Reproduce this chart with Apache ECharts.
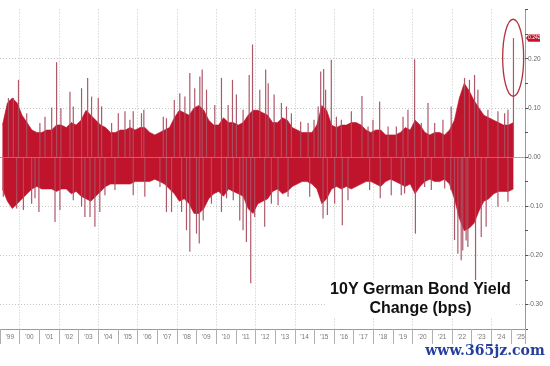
<!DOCTYPE html>
<html><head><meta charset="utf-8">
<script src="https://cdn.jsdelivr.net/npm/echarts/dist/echarts.min.js"></script>
<style>html,body{margin:0;padding:0;background:#fff;}#c{width:550px;height:366px;}</style>
</head><body><div id="c"></div>
<script>
// ---- data ----
const coreStartYear = 1999; // quarterly samples, 1999Q1 .. 2025Q1
const coreUpper = [
  0.065, 0.11, 0.12, 0.11,
  0.085, 0.07, 0.055, 0.05,
  0.05, 0.055, 0.055, 0.065,
  0.065, 0.06, 0.07, 0.065,
  0.075, 0.095, 0.085, 0.075,
  0.065, 0.06, 0.05, 0.05,
  0.055, 0.055, 0.06, 0.055,
  0.06, 0.06, 0.05, 0.045,
  0.05, 0.055, 0.06, 0.08,
  0.095, 0.09, 0.085, 0.10,
  0.105, 0.095, 0.075, 0.065,
  0.065, 0.08, 0.07, 0.07,
  0.065, 0.07, 0.085, 0.095,
  0.095, 0.09, 0.085, 0.07,
  0.07, 0.08, 0.075, 0.06,
  0.055, 0.05, 0.05, 0.05,
  0.065, 0.105, 0.095, 0.065,
  0.06, 0.065, 0.065, 0.07,
  0.07, 0.065, 0.055, 0.05,
  0.055, 0.055, 0.045, 0.045,
  0.045, 0.05, 0.06, 0.055,
  0.075, 0.065, 0.05, 0.045,
  0.05, 0.05, 0.045, 0.055,
  0.075, 0.12, 0.15, 0.135,
  0.115, 0.10, 0.085, 0.08,
  0.075, 0.07, 0.065, 0.065,
  0.07
];
const coreLower = [
  -0.065, -0.09, -0.105, -0.095,
  -0.085, -0.075, -0.065, -0.06,
  -0.065, -0.065, -0.065, -0.07,
  -0.065, -0.065, -0.075, -0.07,
  -0.08, -0.085, -0.09, -0.08,
  -0.07, -0.06, -0.055, -0.055,
  -0.055, -0.055, -0.055, -0.05,
  -0.05, -0.05, -0.05, -0.045,
  -0.05, -0.055, -0.065, -0.075,
  -0.09, -0.085, -0.095, -0.115,
  -0.115, -0.105, -0.085, -0.075,
  -0.07, -0.08, -0.065, -0.07,
  -0.075, -0.08, -0.105, -0.115,
  -0.095, -0.09, -0.085, -0.07,
  -0.065, -0.075, -0.07, -0.06,
  -0.055, -0.05, -0.05, -0.055,
  -0.065, -0.095, -0.085, -0.065,
  -0.06, -0.065, -0.06, -0.065,
  -0.06, -0.055, -0.05, -0.05,
  -0.055, -0.06, -0.05, -0.045,
  -0.05, -0.055, -0.06, -0.055,
  -0.075, -0.06, -0.05, -0.045,
  -0.05, -0.05, -0.045, -0.055,
  -0.085, -0.125, -0.15, -0.145,
  -0.135, -0.11, -0.09, -0.085,
  -0.075, -0.07, -0.07, -0.07,
  -0.065
];
const spikeDates = [
  1999.43, 1999.68, 1999.94, 2000.36, 2001.03, 2001.29, 2001.63, 2001.88, 2002.10, 2002.56,
  2002.73, 2003.15, 2003.46, 2003.66, 2004.00, 2004.17, 2004.68, 2005.02, 2005.36, 2005.61,
  2005.78, 2006.20, 2006.32, 2007.31, 2007.47, 2007.87, 2008.15, 2008.41, 2008.66, 2008.91,
  2009.17, 2009.29, 2009.51, 2009.93, 2010.27, 2010.61, 2010.83, 2011.03, 2011.37, 2011.68,
  2011.85, 2012.22, 2012.52, 2012.65, 2012.95, 2013.32, 2013.58, 2013.83, 2014.30, 2014.68,
  2014.98, 2015.19, 2015.32, 2015.47, 2015.57, 2015.86, 2016.12, 2016.37, 2016.88, 2017.42,
  2017.73, 2017.98, 2018.32, 2018.75, 2019.17, 2019.51, 2019.76, 2020.10, 2020.44, 2020.78,
  2021.12, 2021.54, 2021.96, 2022.64, 2022.89, 2023.15, 2023.32, 2023.83, 2024.34, 2024.68,
  2024.85,
  1999.17, 1999.85, 2000.19, 2000.61, 2000.78, 2000.98, 2001.80, 2002.05, 2002.73, 2003.15,
  2003.32, 2003.58, 2003.83, 2004.08, 2004.34, 2004.85, 2005.78, 2006.37, 2007.14, 2007.47,
  2007.73, 2008.24, 2008.49, 2008.66, 2009.00, 2009.14, 2009.34, 2009.76, 2010.27, 2010.53,
  2010.87, 2011.20, 2011.37, 2011.54, 2011.76, 2011.96, 2012.47, 2012.81, 2013.15, 2013.66,
  2014.76, 2015.44, 2015.66, 2016.03, 2016.42, 2016.71, 2017.81, 2018.35, 2018.91, 2019.42,
  2019.59, 2020.14, 2020.61, 2020.95, 2021.63, 2021.94, 2022.13, 2022.30, 2022.47, 2022.55,
  2022.72, 2022.81, 2023.20, 2023.49, 2023.74, 2024.34, 2024.85,
  2025.13
];
const spikeValues = [
  0.12, 0.12, 0.157, 0.089, 0.069, 0.082, 0.101, 0.193, 0.099, 0.133,
  0.103, 0.140, 0.161, 0.123, 0.12, 0.103, 0.069, 0.089, 0.093, 0.076,
  0.093, 0.089, 0.096, 0.082, 0.079, 0.116, 0.13, 0.123, 0.171, 0.14,
  0.164, 0.178, 0.137, 0.106, 0.161, 0.106, 0.157, 0.127, 0.096, 0.167,
  0.229, 0.137, 0.178, 0.150, 0.127, 0.11, 0.103, 0.089, 0.072, 0.069,
  0.076, 0.103, 0.174, 0.179, 0.137, 0.198, 0.082, 0.076, 0.093, 0.124,
  0.062, 0.076, 0.113, 0.062, 0.062, 0.082, 0.096, 0.199, 0.069, 0.11,
  0.069, 0.076, 0.103, 0.161, 0.157, 0.167, 0.137, 0.096, 0.093, 0.089,
  0.096,
  -0.081, -0.105, -0.108, -0.095, -0.084, -0.112, -0.132, -0.108, -0.088, -0.101,
  -0.122, -0.122, -0.142, -0.112, -0.078, -0.067, -0.078, -0.081, -0.061, -0.112,
  -0.112, -0.112, -0.149, -0.193, -0.156, -0.176, -0.129, -0.095, -0.112, -0.084,
  -0.088, -0.129, -0.149, -0.173, -0.257, -0.122, -0.142, -0.095, -0.098, -0.081,
  -0.081, -0.125, -0.118, -0.095, -0.139, -0.088, -0.067, -0.084, -0.078, -0.078,
  -0.074, -0.156, -0.061, -0.067, -0.064, -0.067, -0.169, -0.197, -0.21, -0.19,
  -0.17, -0.183, -0.265, -0.163, -0.142, -0.101, -0.091,
  0.242
];
const yearLabels = ["'99","'00","'01","'02","'03","'04","'05","'06","'07","'08","'09","'10","'11","'12",
  "'13","'14","'15","'16","'17","'18","'19","'20","'21","'22","'23","'24","'25"];
const yTickLabels = ["-0.30","-0.20","-0.10","0.00","0.10","0.20"];
const annotationLines = ['10Y German Bond Yield', 'Change (bps)'];
const watermark = 'www.365jz.com';

// ---- build ----
const RED = '#c0142c';
const SPIKE = 'rgba(170,80,98,0.95)';
const X_MIN = 1999, X_MAX = 2025.717;
const Y_MIN = -0.35, Y_MAX = 0.30;
const upData = coreUpper.map((v, i) => [coreStartYear + 0.125 + 0.25 * i, v]);
const downData = coreLower.map((v, i) => [coreStartYear + 0.125 + 0.25 * i, v]);
const spikeData = spikeDates.map((d, i) => [d, spikeValues[i]]);

const isInt = v => Math.abs(v - Math.round(v)) < 1e-6;
const chart = echarts.init(document.getElementById('c'), null, {renderer: 'canvas'});
const FONT = '"Liberation Sans", Arial, sans-serif';

chart.setOption({
  animation: false,
  backgroundColor: '#fff',
  grid: [
    {left: 0, top: 9.6, width: 525, height: 319.4},
    {left: 9.83, top: 9.6, width: 525, height: 319.4}
  ],
  xAxis: [
    {type: 'value', gridIndex: 0, min: X_MIN, max: X_MAX, interval: 1,
     axisLine: {show: true, onZero: false, lineStyle: {color: '#9a9a9a', width: 1}},
     axisTick: {show: true, length: 15, lineStyle: {color: '#b0b0b0'}},
     axisLabel: {show: false},
     splitLine: {show: true, lineStyle: {type: [1, 2], color: ['rgba(0,0,0,0)', '#c4c4c4']}}},
    {type: 'value', gridIndex: 1, min: X_MIN, max: X_MAX, interval: 1,
     axisLine: {show: false}, axisTick: {show: false}, splitLine: {show: false},
     axisLabel: {show: true, fontSize: 6.5, color: '#777', fontFamily: FONT, margin: 5,
       formatter: v => isInt(v) ? (yearLabels[Math.round(v) - 1999] || '') : ''}}
  ],
  yAxis: [
    {type: 'value', gridIndex: 0, position: 'right', min: Y_MIN, max: Y_MAX, interval: 0.05,
     axisLine: {show: true, lineStyle: {color: '#9a9a9a', width: 1}},
     axisTick: {show: true, length: 3, lineStyle: {color: '#555'}},
     axisLabel: {show: true, fontSize: 6.5, color: '#666', fontFamily: FONT, margin: 3,
       formatter: v => {
         const k = Math.round(v * 100);
         if (k % 10 !== 0) return '';
         const idx = Math.round(k / 10) + 3;
         return yTickLabels[idx] || '';
       }},
     splitLine: {show: true, showMaxLine: false, lineStyle: {type: [1, 2], color: ['rgba(0,0,0,0)', '#c4c4c4']}}},
    {type: 'value', gridIndex: 1, min: Y_MIN, max: Y_MAX, show: false}
  ],
  series: [
    {type: 'line', xAxisIndex: 0, yAxisIndex: 0, data: upData, symbol: 'none', z: 3,
     lineStyle: {width: 0.6, color: RED}, areaStyle: {color: RED, opacity: 1},
     markLine: {silent: true, symbol: ['none', 'none'], label: {show: false}, z: 6,
       lineStyle: {color: 'rgba(225,110,125,0.75)', width: 1, type: 'solid'},
       data: [{yAxis: 0}]}},
    {type: 'line', xAxisIndex: 0, yAxisIndex: 0, data: downData, symbol: 'none', z: 3,
     lineStyle: {width: 0.6, color: RED}, areaStyle: {color: RED, opacity: 1}},
    {type: 'bar', xAxisIndex: 0, yAxisIndex: 0, data: spikeData, barWidth: 1.2, z: 4,
     itemStyle: {color: SPIKE}}
  ]
});

// annotations anchored to the last (most recent) spike
let lastIdx = 0;
spikeDates.forEach((d, i) => { if (d > spikeDates[lastIdx]) lastIdx = i; });
const lastVal = spikeValues[lastIdx];
const pSpike = chart.convertToPixel({xAxisIndex: 0, yAxisIndex: 0}, [spikeDates[lastIdx], lastVal]);
const pMid = chart.convertToPixel({xAxisIndex: 0, yAxisIndex: 0}, [spikeDates[lastIdx], 0.20]);
const pAxis = chart.convertToPixel({xAxisIndex: 0, yAxisIndex: 0}, [X_MAX, lastVal]);
const ty = pSpike[1];
const ax = pAxis[0] + 1;

chart.setOption({
  graphic: [
    {type: 'ellipse', z: 10, shape: {cx: pSpike[0] - 0.3, cy: pMid[1] - 1, rx: 10.5, ry: 38.5},
     style: {fill: 'none', stroke: '#b3323d', lineWidth: 1.3}},
    {type: 'polygon', z: 10, shape: {points: [[ax, ty], [ax + 2.5, ty - 3.6], [ax + 14, ty - 3.6], [ax + 14, ty + 3.6], [ax + 2.5, ty + 3.6]]},
     style: {fill: '#c0142c'}},
    {type: 'text', z: 11, x: ax + 8.3, y: ty, style: {text: lastVal.toFixed(3), fill: '#fff',
      font: '5px ' + FONT, textAlign: 'center', textVerticalAlign: 'middle'}},
    {type: 'text', z: 12, x: 420.5, y: 280, style: {text: annotationLines.join('\n'), fill: '#111',
      font: 'bold 16px ' + FONT, textAlign: 'center', lineHeight: 19,
      backgroundColor: '#fff', padding: [0, 3, 0, 3]}},
    {type: 'text', z: 12, x: 485, y: 351, style: {text: watermark, fill: '#253f9f',
      font: 'bold 14px "DejaVu Serif", serif', textAlign: 'center', textVerticalAlign: 'middle'}}
  ]
});
</script>
</body></html>
